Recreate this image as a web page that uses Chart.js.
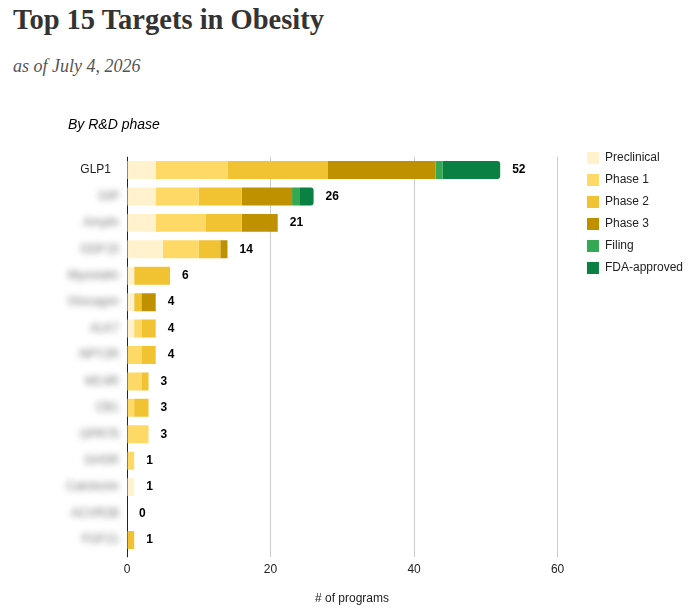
<!DOCTYPE html>
<html>
<head>
<meta charset="utf-8">
<script src="https://cdn.jsdelivr.net/npm/chart.js@4/dist/chart.umd.min.js"></script>
<style>
  html, body { margin: 0; padding: 0; background: #fff; overflow: hidden; width: 694px; height: 614px; }
  h1 { position: absolute; left: 13px; top: 4px; margin: 0; font: bold 28.5px "Liberation Serif", "DejaVu Serif", serif; color: #333; }
  .sub { position: absolute; left: 13px; top: 56px; margin: 0; font: italic 18px "Liberation Serif", "DejaVu Serif", serif; color: #555; }
  #wrap { position: absolute; left: 0; top: 100px; width: 704px; height: 514px; }
</style>
</head>
<body>
<h1>Top 15 Targets in Obesity</h1>
<p class="sub">as of July 4, 2026</p>
<div id="wrap"><canvas id="targetChart" width="704" height="514"></canvas></div>
<script>
var targets = ['GLP1', 'GIP', 'Amylin', 'GDF15', 'Myostatin', 'Glucagon', 'ALK7', 'NPY2R',
    'MC4R', 'CB1', 'GPR75', 'GHSR', 'Calcitonin', 'ACVR2B', 'FGF21'];
var preclinical = [4, 4, 4, 5, 1, 1, 1, 0, 0, 0, 0, 0, 1, 0, 0];
var phase1      = [10, 6, 7, 5, 0, 0, 1, 2, 2, 1, 3, 1, 0, 0, 0];
var phase2      = [14, 6, 5, 3, 5, 1, 2, 2, 1, 2, 0, 0, 0, 0, 1];
var phase3      = [15, 7, 5, 1, 0, 2, 0, 0, 0, 0, 0, 0, 0, 0, 0];
var filing      = [1, 1, 0, 0, 0, 0, 0, 0, 0, 0, 0, 0, 0, 0, 0];
var approved    = [8, 2, 0, 0, 0, 0, 0, 0, 0, 0, 0, 0, 0, 0, 0];
var xTicks = [0, 20, 40, 60];

var font = 'Arial, "Liberation Sans", sans-serif';

function series(label, data, color) {
    return {
        label: label,
        data: data,
        backgroundColor: color,
        borderWidth: 0,
        categoryPercentage: 1,
        barPercentage: 0.68
    };
}

var datasets = [
    series('Preclinical', preclinical, '#fff2cc'),
    series('Phase 1', phase1, '#ffd966'),
    series('Phase 2', phase2, '#f1c232'),
    series('Phase 3', phase3, '#bf9000'),
    series('Filing', filing, '#34a853'),
    series('FDA-approved', approved, '#0b8043')
];
datasets[5].borderRadius = 3;

// total at the end of each bar, and blurred target names
var extras = {
    id: 'extras',
    afterDatasetsDraw: function(chart) {
        var ctx = chart.ctx, x = chart.scales.x, y = chart.scales.y;
        ctx.save();
        ctx.font = 'bold 12px ' + font;
        ctx.fillStyle = '#000';
        ctx.textAlign = 'left';
        ctx.textBaseline = 'middle';
        targets.forEach(function(t, i) {
            var total = 0;
            datasets.forEach(function(d) { total += d.data[i]; });
            ctx.fillText(total, x.getPixelForValue(total) + 12, y.getPixelForValue(i));
        });
        ctx.font = '12px ' + font;
        ctx.fillStyle = '#777';
        ctx.textAlign = 'right';
        ctx.filter = 'blur(3px)';
        targets.forEach(function(t, i) {
            if (i > 0) ctx.fillText(t, y.right - 8, y.getPixelForValue(i));
        });
        ctx.restore();
    }
};

var ctx = document.getElementById('targetChart').getContext('2d');
var chart = new Chart(ctx, {
    type: 'bar',
    data: { labels: targets, datasets: datasets },
    plugins: [extras],
    options: {
        indexAxis: 'y',
        responsive: false,
        animation: false,
        layout: { padding: { left: 68, top: 17, right: 11, bottom: 2 } },
        scales: {
            x: {
                stacked: true,
                min: 0,
                max: 62.7,
                afterBuildTicks: function(scale) {
                    scale.ticks = xTicks.map(function(v) { return { value: v }; });
                },
                grid: {
                    color: function(c) { return c.tick && c.tick.value === 0 ? '#222' : '#ccc'; },
                    tickLength: 4
                },
                border: { display: false },
                ticks: { color: '#222', padding: 5, font: { family: font, size: 12 } },
                title: {
                    display: true,
                    text: '# of programs',
                    color: '#222',
                    padding: { top: 10, bottom: 6 },
                    font: { family: font, size: 12 }
                }
            },
            y: {
                stacked: true,
                afterFit: function(scale) { scale.width = 59; },
                grid: { display: false },
                border: { display: false },
                ticks: {
                    padding: 8,
                    color: function(c) { return c.index === 0 ? '#222' : 'rgba(0,0,0,0)'; },
                    font: { family: font, size: 12 }
                }
            }
        },
        plugins: {
            title: {
                display: true,
                text: 'By R&D phase',
                align: 'start',
                color: '#000',
                padding: { top: 0, bottom: 23 },
                font: { family: font, size: 14, style: 'italic', weight: 'normal' }
            },
            legend: {
                position: 'right',
                align: 'start',
                title: { display: true, text: '', padding: { top: 7, bottom: 6 }, font: { size: 10 } },
                labels: {
                    boxWidth: 12,
                    boxHeight: 12,
                    padding: 10,
                    color: '#222',
                    font: { family: font, size: 12 }
                }
            },
            tooltip: { enabled: false }
        }
    }
});
</script>
</body>
</html>
